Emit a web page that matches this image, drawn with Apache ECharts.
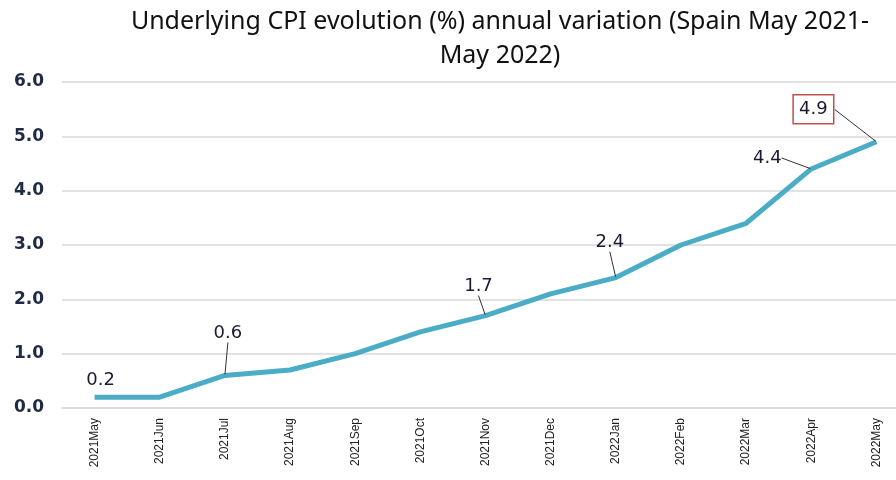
<!DOCTYPE html>
<html>
<head>
<meta charset="utf-8">
<script src="https://cdn.jsdelivr.net/npm/echarts@6/dist/echarts.min.js"></script>
<style>
html, body { margin: 0; padding: 0; background: #fff; }
#main { width: 896px; height: 480px; }
</style>
</head>
<body>
<div id="main"></div>
<script>
// 月份
var months = ['2021May', '2021Jun', '2021Jul', '2021Aug', '2021Sep', '2021Oct', '2021Nov',
    '2021Dec', '2022Jan', '2022Feb', '2022Mar', '2022Apr', '2022May'];
// 核心CPI同比 (%)
var cpiValues = [0.2, 0.2, 0.6, 0.7, 1.0, 1.4, 1.7, 2.1, 2.4, 3.0, 3.4, 4.4, 4.9];
// 需要显示标签的点
var labelledIdx = [0, 2, 6, 8, 11, 12];
var yTicks = [0, 1, 2, 3, 4, 5, 6];

// 标签偏移 (dx, dy)
var labelShift = {
    0: [6, -2],
    2: [3, -27],
    6: [-7, -14],
    8: [-6, -20],
    11: [-44, 4],
    12: [-63, -12]
};

var chart = echarts.init(document.getElementById('main'));

var seriesData = cpiValues.map(function (v, i) {
    var item = { value: v };
    if (labelledIdx.indexOf(i) >= 0) {
        item.label = { show: true };
        if (i === 0) {
            item.labelLine = { show: false };
        }
        if (i === 12) {
            item.label.borderColor = '#c0504d';
            item.label.borderWidth = 1.5;
            item.label.padding = [6, 6, 5, 6];
        }
    }
    return item;
});

var option = {
    backgroundColor: '#fff',
    animation: false,
    title: {
        text: 'Underlying CPI evolution (%) annual variation (Spain May 2021-\nMay 2022)',
        left: 495,
        textAlign: 'center',
        top: 0,
        textStyle: {
            fontFamily: 'Noto Sans, sans-serif',
            fontSize: 25,
            fontWeight: 'normal',
            color: '#111',
            lineHeight: 34
        }
    },
    grid: {
        left: 62,
        right: -13,
        top: 82,
        bottom: 72,
        containLabel: false,
        outerBoundsMode: 'none'
    },
    xAxis: {
        type: 'category',
        boundaryGap: true,
        data: months,
        axisLine: { show: true, lineStyle: { color: '#d9d9d9', width: 1.5 } },
        axisTick: { show: false },
        axisLabel: {
            rotate: 90,
            interval: 0,
            margin: 10,
            fontSize: 12,
            fontFamily: 'Liberation Sans, Arial, sans-serif',
            color: '#222'
        }
    },
    yAxis: {
        type: 'value',
        min: yTicks[0],
        max: yTicks[yTicks.length - 1],
        interval: 1,
        axisLine: { show: false },
        axisTick: { show: false },
        splitLine: { lineStyle: { color: '#d9d9d9', width: 1.5 } },
        axisLabel: {
            margin: 18,
            fontSize: 17,
            fontWeight: 'bold',
            fontFamily: 'DejaVu Sans, Verdana, sans-serif',
            color: '#1f2a44',
            formatter: function (v) { return v.toFixed(1); }
        }
    },
    series: [{
        type: 'line',
        data: seriesData,
        symbol: 'circle',
        symbolSize: 2,
        showSymbol: true,
        itemStyle: { color: 'rgba(0,0,0,0)' },
        lineStyle: { color: '#4bacc6', width: 5 },
        label: {
            show: false,
            position: 'top',
            fontSize: 18,
            fontFamily: 'DejaVu Sans, Verdana, sans-serif',
            color: '#1a1a33',
            formatter: function (p) { return p.value.toFixed(1); }
        },
        labelLine: {
            show: true,
            lineStyle: { color: '#333', width: 1 }
        },
        labelLayout: function (params) {
            var s = labelShift[params.dataIndex];
            if (!s) return {};
            return { dx: s[0], dy: s[1] };
        }
    }]
};

chart.setOption(option);
</script>
</body>
</html>
